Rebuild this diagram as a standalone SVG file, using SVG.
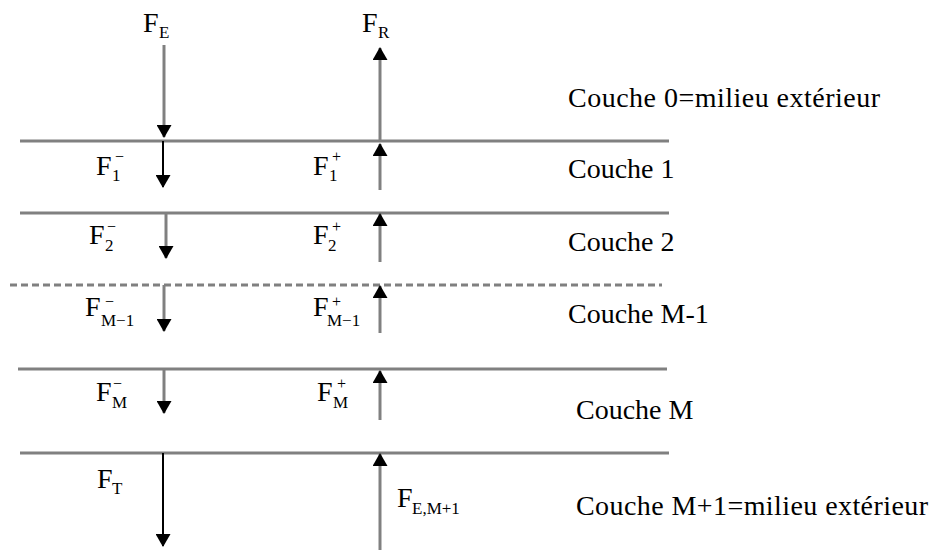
<svg xmlns="http://www.w3.org/2000/svg" width="934" height="550" viewBox="0 0 934 550">
<style>
.bg{fill:#ffffff}
.layer{stroke:#808080;stroke-width:3;fill:none}
.dash{stroke-dasharray:7 4}
.flux{stroke:#808080;stroke-width:3;fill:none}
.dark{stroke:#000000;stroke-width:2}
.t{font-family:"Liberation Serif","Times New Roman",serif;font-size:28px;fill:#000}
.s{font-size:17px}
.p{font-size:16px}
</style>
<defs>
<marker id="ah" viewBox="0 0 13 15" markerWidth="13" markerHeight="15" refX="12" refY="7.5" orient="auto" markerUnits="userSpaceOnUse">
<path d="M0,0 L13,7.5 L0,15 z" fill="#000"/>
</marker>
</defs>
<rect class="bg" x="0" y="0" width="934" height="550"/>

<g id="layers">
<line class="layer" x1="20" y1="141" x2="669" y2="141"/>
<line class="layer" x1="20" y1="213" x2="669" y2="213"/>
<line class="layer dash" x1="10" y1="285" x2="662" y2="285"/>
<line class="layer" x1="18" y1="369" x2="667" y2="369"/>
<line class="layer" x1="20" y1="453" x2="669" y2="453"/>
</g>

<g id="connectors">
<line class="flux" x1="164" y1="45" x2="164" y2="137" marker-end="url(#ah)"/>
<line class="flux dark" x1="163" y1="141" x2="163" y2="187" marker-end="url(#ah)"/>
<line class="flux" x1="166" y1="213" x2="166" y2="258" marker-end="url(#ah)"/>
<line class="flux" x1="164" y1="285" x2="164" y2="331" marker-end="url(#ah)"/>
<line class="flux" x1="164" y1="369" x2="164" y2="413" marker-end="url(#ah)"/>
<line class="flux dark" x1="163" y1="453" x2="163" y2="546" marker-end="url(#ah)"/>
<line class="flux" x1="380" y1="141" x2="380" y2="48" marker-end="url(#ah)"/>
<line class="flux" x1="380" y1="190" x2="380" y2="144" marker-end="url(#ah)"/>
<line class="flux" x1="380" y1="262" x2="380" y2="214" marker-end="url(#ah)"/>
<line class="flux" x1="380" y1="333" x2="380" y2="286" marker-end="url(#ah)"/>
<line class="flux" x1="380" y1="420" x2="380" y2="371" marker-end="url(#ah)"/>
<line class="flux" x1="380" y1="550" x2="380" y2="454" marker-end="url(#ah)"/>
</g>

<g id="label-FE"><text class="t" x="143" y="32">F<tspan class="s" x="159" y="38">E</tspan></text></g>
<g id="label-FR"><text class="t" x="362" y="32">F<tspan class="s" x="378" y="38">R</tspan></text></g>
<g id="label-F1m"><text class="t" x="96" y="175">F<tspan class="s" x="112" y="181">1</tspan><tspan class="p" x="115" y="162">−</tspan></text></g>
<g id="label-F1p"><text class="t" x="313" y="175">F<tspan class="s" x="329" y="181">1</tspan><tspan class="p" x="332" y="162">+</tspan></text></g>
<g id="label-F2m"><text class="t" x="89" y="244">F<tspan class="s" x="105" y="251">2</tspan><tspan class="p" x="107" y="232">−</tspan></text></g>
<g id="label-F2p"><text class="t" x="313" y="244">F<tspan class="s" x="328" y="251">2</tspan><tspan class="p" x="332" y="232">+</tspan></text></g>
<g id="label-FM1m"><text class="t" x="85" y="316">F<tspan class="s" x="101" y="326">M−1</tspan><tspan class="p" x="105" y="307">−</tspan></text></g>
<g id="label-FM1p"><text class="t" x="313" y="316">F<tspan class="s" x="327" y="326">M−1</tspan><tspan class="p" x="332" y="307">+</tspan></text></g>
<g id="label-FMm"><text class="t" x="96" y="401">F<tspan class="s" x="112" y="408">M</tspan><tspan class="p" x="113" y="389">−</tspan></text></g>
<g id="label-FMp"><text class="t" x="317" y="401">F<tspan class="s" x="333" y="408">M</tspan><tspan class="p" x="337" y="389">+</tspan></text></g>
<g id="label-FT"><text class="t" x="97" y="488">F<tspan class="s" x="112" y="494">T</tspan></text></g>
<g id="label-FEM1"><text class="t" x="397" y="507">F<tspan class="s" x="412" y="514">E,M+1</tspan></text></g>

<g id="couche-0"><text class="t" x="568" y="107" textLength="312" lengthAdjust="spacing">Couche 0=milieu extérieur</text></g>
<g id="couche-1"><text class="t" x="568" y="178">Couche 1</text></g>
<g id="couche-2"><text class="t" x="568" y="251">Couche 2</text></g>
<g id="couche-M-1"><text class="t" x="568" y="323">Couche M-1</text></g>
<g id="couche-M"><text class="t" x="576" y="419">Couche M</text></g>
<g id="couche-M+1"><text class="t" x="576" y="515" textLength="352" lengthAdjust="spacing">Couche M+1=milieu extérieur</text></g>
</svg>
